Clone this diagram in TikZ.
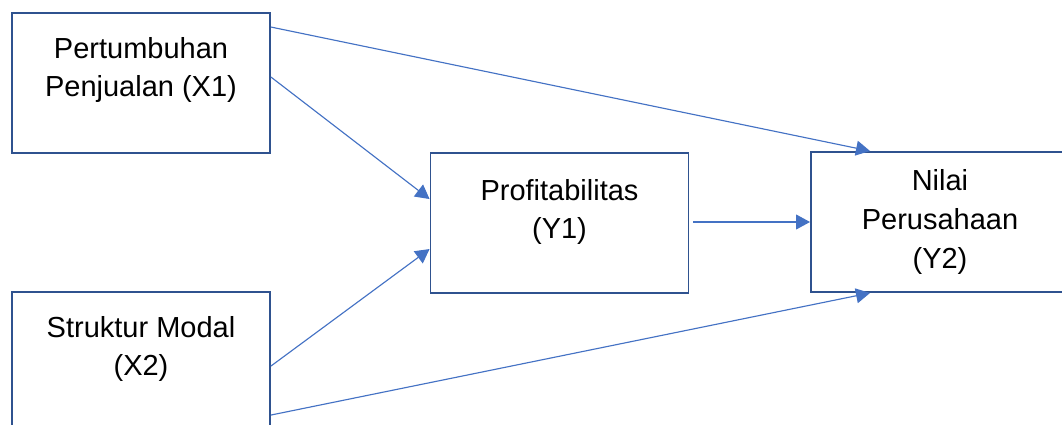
\documentclass[tikz,border=0pt]{standalone}
\usepackage{fontspec}
\setmainfont{Liberation Sans}
\usetikzlibrary{arrows.meta,calc}
\definecolor{boxline}{HTML}{2F528F}
\definecolor{linkline}{HTML}{4472C4}
\tikzset{
  varbox/.style={draw=boxline,line width=1.1pt,fill=white,minimum width=5.16cm,minimum height=2.8cm,inner sep=0},
  varlabel/.style={align=center,inner sep=0,font=\fontsize{16.5}{22}\selectfont},
  link/.style={draw=linkline,line width=0.65pt,-{Triangle[length=8pt,width=8.5pt]}}
}
\begin{document}
\begin{tikzpicture}[x=0.02cm,y=-0.02cm]
  \path[use as bounding box,clip] (0,0) rectangle (1062,425);
  % variables
  \node[varbox] (x1) at (141,83){};
  \node[varbox] (x2) at (141,362){};
  \node[varbox] (y1) at (559.5,223){};
  \node[varbox] (y2) at (940,222){};
  \node[varlabel] (x1l) at (141,70) {Pertumbuhan\\Penjualan (X1)};
  \node[varlabel] (x2l) at (141,349) {Struktur Modal\\(X2)};
  \node[varlabel] (y1l) at (559.5,212) {Profitabilitas\\(Y1)};
  \node[varlabel] (y2l) at (940,222) {Nilai\\Perusahaan\\(Y2)};
  % paths
  \draw[link] ([shift={(0,15)}]x1.north east) -- ([shift={(60,0)}]y2.north west);
  \draw[link] ([shift={(0,65)}]x1.north east) -- ([shift={(0,47)}]y1.north west);
  \draw[link] ([shift={(0,75)}]x2.north east) -- ([shift={(0,97)}]y1.north west);
  \draw[link] ([shift={(0,124)}]x2.north east) -- ([shift={(60,0)}]y2.south west);
  \draw[link] ([xshift=4*0.02cm]y2.west -| y1.east) -- (y2.west);
\end{tikzpicture}
\end{document}
